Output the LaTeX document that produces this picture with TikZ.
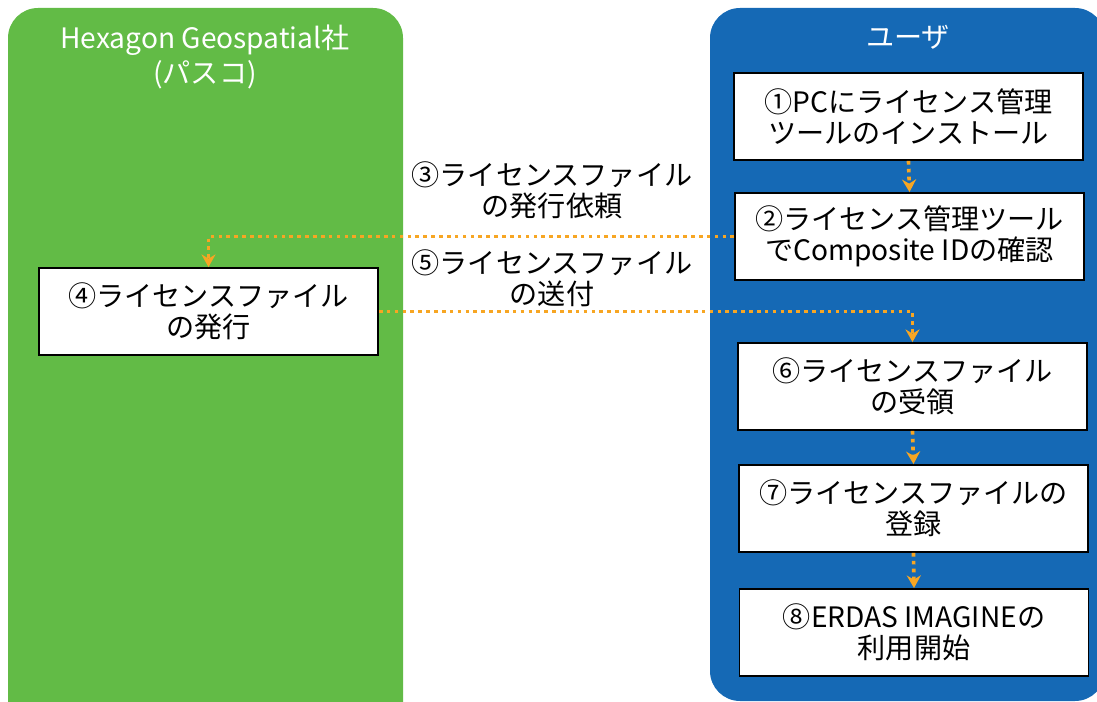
\documentclass[tikz,border=0pt]{standalone}
\usepackage{fontspec}
\setmainfont{Noto Sans CJK JP}
\usepackage{tikz}
\usetikzlibrary{positioning,arrows.meta}

\definecolor{hexgreen}{RGB}{98,187,70}
\definecolor{userblue}{RGB}{21,105,181}
\definecolor{flowor}{RGB}{247,166,35}

\begin{document}
\begin{tikzpicture}[
    x=0.025cm, y=-0.025cm,
    stepnode/.style={rectangle, draw=black, fill=white, line width=1.3pt,
        minimum width=8.725cm, minimum height=2.175cm, align=center,
        font=\fontsize{20}{22}\selectfont, inner sep=0pt},
    titletext/.style={text=white, align=center, font=\fontsize{20}{25}\selectfont},
    flow/.style={draw=flowor, line width=2.6pt, dash pattern=on 2.6pt off 3pt,
        -{Stealth[length=9pt, width=10pt, inset=3pt]}}
    ]
        \useasboundingbox (0,0) rectangle (1097,702);
        \clip (0,0) rectangle (1097,702);

        %Panels
        \fill[hexgreen, rounded corners=0.75cm] (8,8) rectangle (403,740);
        \fill[userblue, rounded corners=0.75cm] (710,8) rectangle (1105,701);
        \node[titletext] (hexttl) at (205,57) {Hexagon Geospatial社\\(パスコ)};
        \node[titletext] (userttl) at (908,37) {ユーザ};

        %Nodes
        \node[stepnode] (s1) at (908.5,116.5) {①PCにライセンス管理\\ツールのインストール};
        \node[stepnode] (s2) at (909.5,236.5) {②ライセンス管理ツール\\でComposite IDの確認};
        \node[stepnode, minimum width=8.475cm] (s4) at (208.5,311.5) {④ライセンスファイル\\の発行};
        \node[stepnode] (s6) at (912.5,386.5) {⑥ライセンスファイル\\の受領};
        \node[stepnode] (s7) at (913.5,508.5) {⑦ライセンスファイルの\\登録};
        \node[stepnode] (s8) at (914,632.5) {⑧ERDAS IMAGINEの\\利用開始};

        \node[align=center, font=\fontsize{20}{22}\selectfont] (req) at (552,190)
            {③ライセンスファイル\\の発行依頼};
        \node[align=center, font=\fontsize{20}{22}\selectfont] (send) at (552,278)
            {⑤ライセンスファイル\\の送付};

        %Lines
        \draw[flow] (s1.south) -- (s2.north);
        \draw[flow] (s2.west) -| (s4.north);
        \draw[flow] (s4.east) -| (s6.north);
        \draw[flow] (s6.south) -- (s7.north);
        \draw[flow] (s7.south) -- (s8.north);
    \end{tikzpicture}
\end{document}
